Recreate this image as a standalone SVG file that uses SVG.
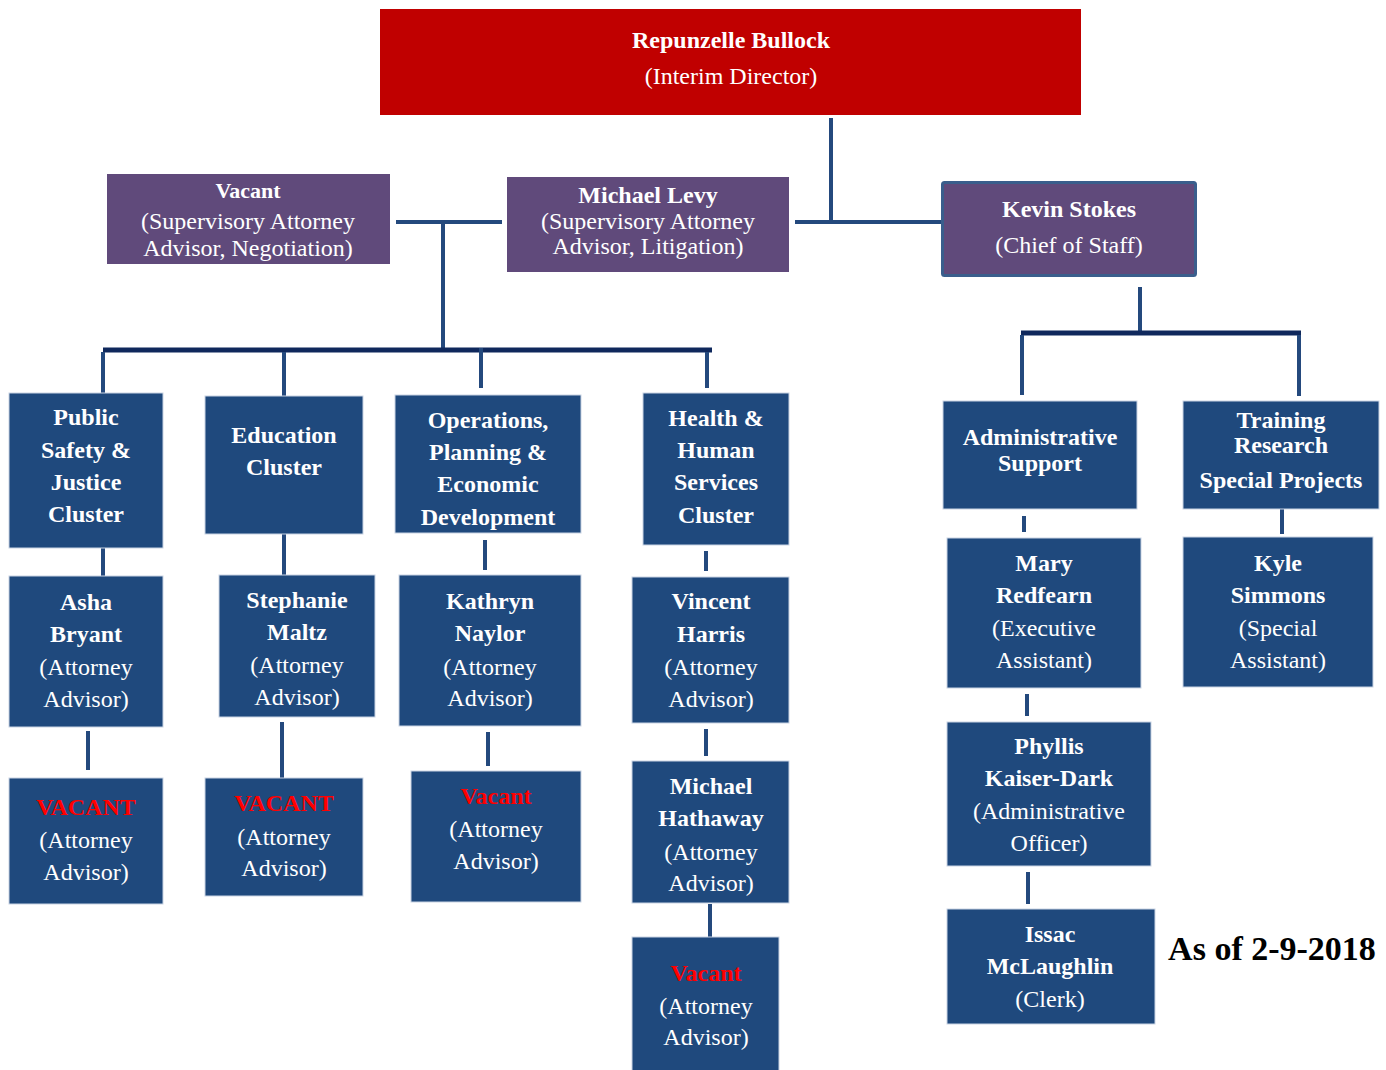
<svg xmlns="http://www.w3.org/2000/svg" width="1386" height="1070" viewBox="0 0 1386 1070">
<style>
text{font-family:"Liberation Serif","DejaVu Serif",serif;font-size:24px;text-anchor:middle;fill:#fff}
.b{font-weight:bold}
.v{fill:#FF0000;font-weight:bold}
.box{fill:#1F497D;stroke:#C9D4E4;stroke-width:1}
.pur{fill:#604A7B}
.ln{stroke:#24497D;stroke-width:4;fill:none}
.bar{stroke:#0F285C;stroke-width:5;fill:none}
</style>
<rect width="1386" height="1070" fill="#fff"/>
<g id="connectors">
<line class="ln" x1="831" y1="118" x2="831" y2="224"/>
<line class="ln" x1="795" y1="222" x2="941" y2="222"/>
<line class="ln" x1="396" y1="222" x2="502" y2="222"/>
<line class="ln" x1="443" y1="222" x2="443" y2="350"/>
<line class="bar" x1="103" y1="350" x2="712" y2="350"/>
<line class="ln" x1="103" y1="352" x2="103" y2="393"/>
<line class="ln" x1="284" y1="352" x2="284" y2="396"/>
<line class="ln" x1="481" y1="348" x2="481" y2="388"/>
<line class="ln" x1="707" y1="352" x2="707" y2="388"/>
<line class="ln" x1="1140" y1="287" x2="1140" y2="332"/>
<line class="bar" x1="1021" y1="333" x2="1301" y2="333"/>
<line class="ln" x1="1022" y1="335" x2="1022" y2="395"/>
<line class="ln" x1="1299" y1="335" x2="1299" y2="396"/>
<line class="ln" x1="103" y1="548" x2="103" y2="576"/>
<line class="ln" x1="88" y1="731" x2="88" y2="770"/>
<line class="ln" x1="284" y1="534" x2="284" y2="575"/>
<line class="ln" x1="282" y1="722" x2="282" y2="778"/>
<line class="ln" x1="485" y1="540" x2="485" y2="570"/>
<line class="ln" x1="488" y1="732" x2="488" y2="766"/>
<line class="ln" x1="706" y1="551" x2="706" y2="571"/>
<line class="ln" x1="706" y1="729" x2="706" y2="756"/>
<line class="ln" x1="710" y1="904" x2="710" y2="937"/>
<line class="ln" x1="1024" y1="516" x2="1024" y2="532"/>
<line class="ln" x1="1027" y1="694" x2="1027" y2="716"/>
<line class="ln" x1="1028" y1="872" x2="1028" y2="904"/>
<line class="ln" x1="1282" y1="509" x2="1282" y2="534"/>
</g>
<g id="director">
<rect x="380" y="9" width="701" height="106" fill="#C00000"/>
<text class="b" x="731" y="48">Repunzelle Bullock</text>
<text x="731" y="84">(Interim Director)</text>
</g>
<g id="vacant-negotiation">
<rect class="pur" x="107" y="174" width="283" height="90"/>
<text class="b" x="248" y="198" style="font-size:22px">Vacant</text>
<text x="248" y="229">(Supervisory Attorney</text>
<text x="248" y="256">Advisor, Negotiation)</text>
</g>
<g id="michael-levy">
<rect class="pur" x="507" y="177" width="282" height="95"/>
<text class="b" x="648" y="203">Michael Levy</text>
<text x="648" y="229">(Supervisory Attorney</text>
<text x="648" y="254">Advisor, Litigation)</text>
</g>
<g id="kevin-stokes">
<rect class="pur" x="942.5" y="182.5" width="253" height="93" rx="2" stroke="#3A5E8C" stroke-width="3"/>
<text class="b" x="1069" y="217">Kevin Stokes</text>
<text x="1069" y="253">(Chief of Staff)</text>
</g>
<g id="public-safety">
<rect class="box" x="9" y="393" width="154" height="155"/>
<text class="b" x="86" y="425">Public</text>
<text class="b" x="86" y="458">Safety &amp;</text>
<text class="b" x="86" y="490">Justice</text>
<text class="b" x="86" y="522">Cluster</text>
</g>
<g id="education">
<rect class="box" x="205" y="396" width="158" height="138"/>
<text class="b" x="284" y="443">Education</text>
<text class="b" x="284" y="475">Cluster</text>
</g>
<g id="operations">
<rect class="box" x="395" y="395" width="186" height="138"/>
<text class="b" x="488" y="428">Operations,</text>
<text class="b" x="488" y="460">Planning &amp;</text>
<text class="b" x="488" y="492">Economic</text>
<text class="b" x="488" y="525">Development</text>
</g>
<g id="health">
<rect class="box" x="643" y="393" width="146" height="152"/>
<text class="b" x="716" y="426">Health &amp;</text>
<text class="b" x="716" y="458">Human</text>
<text class="b" x="716" y="490">Services</text>
<text class="b" x="716" y="523">Cluster</text>
</g>
<g id="admin-support">
<rect class="box" x="943" y="401" width="194" height="108"/>
<text class="b" x="1040" y="445">Administrative</text>
<text class="b" x="1040" y="471">Support</text>
</g>
<g id="training">
<rect class="box" x="1183" y="401" width="196" height="108"/>
<text class="b" x="1281" y="428">Training</text>
<text class="b" x="1281" y="453">Research</text>
<text class="b" x="1281" y="488">Special Projects</text>
</g>
<g id="asha-bryant">
<rect class="box" x="9" y="576" width="154" height="151"/>
<text class="b" x="86" y="610">Asha</text>
<text class="b" x="86" y="642">Bryant</text>
<text x="86" y="675">(Attorney</text>
<text x="86" y="707">Advisor)</text>
</g>
<g id="vacant-1">
<rect class="box" x="9" y="778" width="154" height="126"/>
<text class="v" x="86" y="815">VACANT</text>
<text x="86" y="848">(Attorney</text>
<text x="86" y="880">Advisor)</text>
</g>
<g id="stephanie-maltz">
<rect class="box" x="219" y="575" width="156" height="142"/>
<text class="b" x="297" y="608">Stephanie</text>
<text class="b" x="297" y="640">Maltz</text>
<text x="297" y="673">(Attorney</text>
<text x="297" y="705">Advisor)</text>
</g>
<g id="vacant-2">
<rect class="box" x="205" y="778" width="158" height="118"/>
<text class="v" x="284" y="811">VACANT</text>
<text x="284" y="845">(Attorney</text>
<text x="284" y="876">Advisor)</text>
</g>
<g id="kathryn-naylor">
<rect class="box" x="399" y="575" width="182" height="151"/>
<text class="b" x="490" y="609">Kathryn</text>
<text class="b" x="490" y="641">Naylor</text>
<text x="490" y="675">(Attorney</text>
<text x="490" y="706">Advisor)</text>
</g>
<g id="vacant-3">
<rect class="box" x="411" y="771" width="170" height="131"/>
<text class="v" x="496" y="804">Vacant</text>
<text x="496" y="837">(Attorney</text>
<text x="496" y="869">Advisor)</text>
</g>
<g id="vincent-harris">
<rect class="box" x="632" y="577" width="157" height="146"/>
<text class="b" x="711" y="609">Vincent</text>
<text class="b" x="711" y="642">Harris</text>
<text x="711" y="675">(Attorney</text>
<text x="711" y="707">Advisor)</text>
</g>
<g id="michael-hathaway">
<rect class="box" x="632" y="761" width="157" height="142"/>
<text class="b" x="711" y="794">Michael</text>
<text class="b" x="711" y="826">Hathaway</text>
<text x="711" y="860">(Attorney</text>
<text x="711" y="891">Advisor)</text>
</g>
<g id="vacant-4">
<rect class="box" x="632" y="937" width="147" height="140"/>
<text class="v" x="706" y="981">Vacant</text>
<text x="706" y="1014">(Attorney</text>
<text x="706" y="1045">Advisor)</text>
</g>
<g id="mary-redfearn">
<rect class="box" x="947" y="538" width="194" height="150"/>
<text class="b" x="1044" y="571">Mary</text>
<text class="b" x="1044" y="603">Redfearn</text>
<text x="1044" y="636">(Executive</text>
<text x="1044" y="668">Assistant)</text>
</g>
<g id="phyllis-kaiser-dark">
<rect class="box" x="947" y="722" width="204" height="144"/>
<text class="b" x="1049" y="754">Phyllis</text>
<text class="b" x="1049" y="786">Kaiser-Dark</text>
<text x="1049" y="819">(Administrative</text>
<text x="1049" y="851">Officer)</text>
</g>
<g id="issac-mclaughlin">
<rect class="box" x="947" y="909" width="208" height="115"/>
<text class="b" x="1050" y="942">Issac</text>
<text class="b" x="1050" y="974">McLaughlin</text>
<text x="1050" y="1007">(Clerk)</text>
</g>
<g id="kyle-simmons">
<rect class="box" x="1183" y="537" width="190" height="150"/>
<text class="b" x="1278" y="571">Kyle</text>
<text class="b" x="1278" y="603">Simmons</text>
<text x="1278" y="636">(Special</text>
<text x="1278" y="668">Assistant)</text>
</g>
<text class="b" x="1272" y="960" style="font-size:34px;fill:#000">As of 2-9-2018</text>
</svg>
